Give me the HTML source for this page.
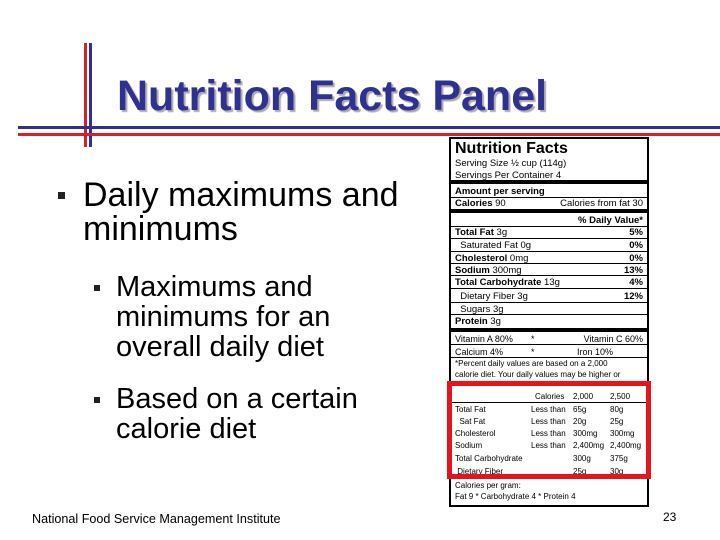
<!DOCTYPE html>
<html><head><meta charset="utf-8"><style>
body{margin:0;width:720px;height:540px;background:#fff;position:relative;overflow:hidden;font-family:"Liberation Sans",Arial,sans-serif}
.a{position:absolute}
.t{position:absolute;white-space:nowrap;line-height:1}
.r{position:absolute;left:4px;right:4px;height:12px;line-height:12px;font-size:9.5px;white-space:nowrap}
.r span.rt{position:absolute;right:0}
.ln{position:absolute;left:0;right:0;background:#000}
</style></head><body>
<div class="a" style="left:84px;top:43px;width:3px;height:104px;background:#d2232a"></div>
<div class="a" style="left:89px;top:43px;width:3px;height:104px;background:#2e3192"></div>
<div class="a" style="left:18px;top:126px;width:702px;height:3px;background:#2e3192"></div>
<div class="a" style="left:18px;top:133px;width:702px;height:3px;background:#d2232a"></div>
<div class="t" style="left:117px;top:75px;font-size:43px;font-weight:bold;color:#2e3192;text-shadow:2px 2px 1px #aaa">Nutrition Facts Panel</div>

<div class="a" style="left:58px;top:192px;width:7px;height:7px;background:#222"></div>
<div class="t" style="left:83px;top:178px;font-size:34px;line-height:34px">Daily maximums and<br>minimums</div>
<div class="a" style="left:94px;top:285px;width:6px;height:6px;background:#222"></div>
<div class="t" style="left:116px;top:272px;font-size:29px;line-height:30px">Maximums and<br>minimums for an<br>overall daily diet</div>
<div class="a" style="left:94px;top:397px;width:6px;height:6px;background:#222"></div>
<div class="t" style="left:116px;top:384px;font-size:29px;line-height:30px">Based on a certain<br>calorie diet</div>

<div class="t" style="left:32px;top:513px;font-size:12.6px">National Food Service Management Institute</div>
<div class="t" style="left:663px;top:511px;font-size:12px">23</div>

<div class="a" style="left:449px;top:137px;width:196px;height:366px;border:2px solid #000">
 <div class="t" style="left:4px;top:2px;font-size:16px;font-weight:bold">Nutrition Facts</div>
 <div class="r" style="top:19px">Serving Size ½ cup (114g)</div>
 <div class="r" style="top:31px">Servings Per Container 4</div>
 <div class="ln" style="top:41px;height:4px"></div>
 <div class="r" style="top:47px;font-weight:bold">Amount per serving</div>
 <div class="ln" style="top:58px;height:1px"></div>
 <div class="r" style="top:59px"><b>Calories</b> 90<span class="rt">Calories from fat 30</span></div>
 <div class="ln" style="top:70px;height:4px"></div>
 <div class="r" style="top:76px;font-weight:bold"><span class="rt">% Daily Value*</span></div>
 <div class="ln" style="top:87px;height:1px"></div>
 <div class="r" style="top:88px"><b>Total Fat</b> 3g<span class="rt"><b>5%</b></span></div>
 <div class="ln" style="top:99px;height:1px"></div>
 <div class="r" style="top:101px">&nbsp;&nbsp;Saturated Fat 0g<span class="rt"><b>0%</b></span></div>
 <div class="ln" style="top:112px;height:1px"></div>
 <div class="r" style="top:114px"><b>Cholesterol</b> 0mg<span class="rt"><b>0%</b></span></div>
 <div class="ln" style="top:124px;height:1px"></div>
 <div class="r" style="top:126px"><b>Sodium</b> 300mg<span class="rt"><b>13%</b></span></div>
 <div class="ln" style="top:136px;height:1px"></div>
 <div class="r" style="top:138px"><b>Total Carbohydrate</b> 13g<span class="rt"><b>4%</b></span></div>
 <div class="ln" style="top:149px;height:1px"></div>
 <div class="r" style="top:152px">&nbsp;&nbsp;Dietary Fiber 3g<span class="rt"><b>12%</b></span></div>
 <div class="ln" style="top:163px;height:1px"></div>
 <div class="r" style="top:165px">&nbsp;&nbsp;Sugars 3g</div>
 <div class="ln" style="top:175px;height:1px"></div>
 <div class="r" style="top:177px"><b>Protein</b> 3g</div>
 <div class="ln" style="top:189px;height:4px"></div>
 <div class="r" style="top:194px;font-size:9px">Vitamin A 80%<span style="position:absolute;left:76px">*</span><span class="rt">Vitamin C 60%</span></div>
 <div class="ln" style="top:205px;height:1px"></div>
 <div class="r" style="top:207px;font-size:9px">Calcium 4%<span style="position:absolute;left:76px">*</span><span style="position:absolute;left:122px">Iron 10%</span></div>
 <div class="ln" style="top:218px;height:1px"></div>
 <div class="r" style="top:219px;font-size:8px">*Percent daily values are based on a 2,000</div>
 <div class="r" style="top:230px;font-size:8px">calorie diet. Your daily values may be higher or</div>
 <div class="r" style="top:252px;font-size:8px"><span style="position:absolute;left:80px">Calories</span><span style="position:absolute;left:118px">2,000</span><span style="position:absolute;left:155px">2,500</span></div>
 <div class="ln" style="top:263px;height:1px"></div>
 <div class="r" style="top:265px;font-size:8px">Total Fat<span style="position:absolute;left:76px">Less than</span><span style="position:absolute;left:118px">65g</span><span style="position:absolute;left:155px">80g</span></div>
 <div class="r" style="top:277px;font-size:8px">&nbsp;&nbsp;Sat Fat<span style="position:absolute;left:76px">Less than</span><span style="position:absolute;left:118px">20g</span><span style="position:absolute;left:155px">25g</span></div>
 <div class="r" style="top:289px;font-size:8px">Cholesterol<span style="position:absolute;left:76px">Less than</span><span style="position:absolute;left:118px">300mg</span><span style="position:absolute;left:155px">300mg</span></div>
 <div class="r" style="top:301px;font-size:8px">Sodium<span style="position:absolute;left:76px">Less than</span><span style="position:absolute;left:118px">2,400mg</span><span style="position:absolute;left:155px">2,400mg</span></div>
 <div class="r" style="top:314px;font-size:8px">Total Carbohydrate<span style="position:absolute;left:118px">300g</span><span style="position:absolute;left:155px">375g</span></div>
 <div class="r" style="top:327px;font-size:8px">&nbsp;Dietary Fiber<span style="position:absolute;left:118px">25g</span><span style="position:absolute;left:155px">30g</span></div>
 <div class="r" style="top:341px;font-size:8px">Calories per gram:</div>
 <div class="r" style="top:352px;font-size:8px">Fat 9 * Carbohydrate 4 * Protein 4</div>
</div>
<div class="a" style="left:447px;top:381px;width:194px;height:88px;border:5px solid #e8141b"></div>
</body></html>
